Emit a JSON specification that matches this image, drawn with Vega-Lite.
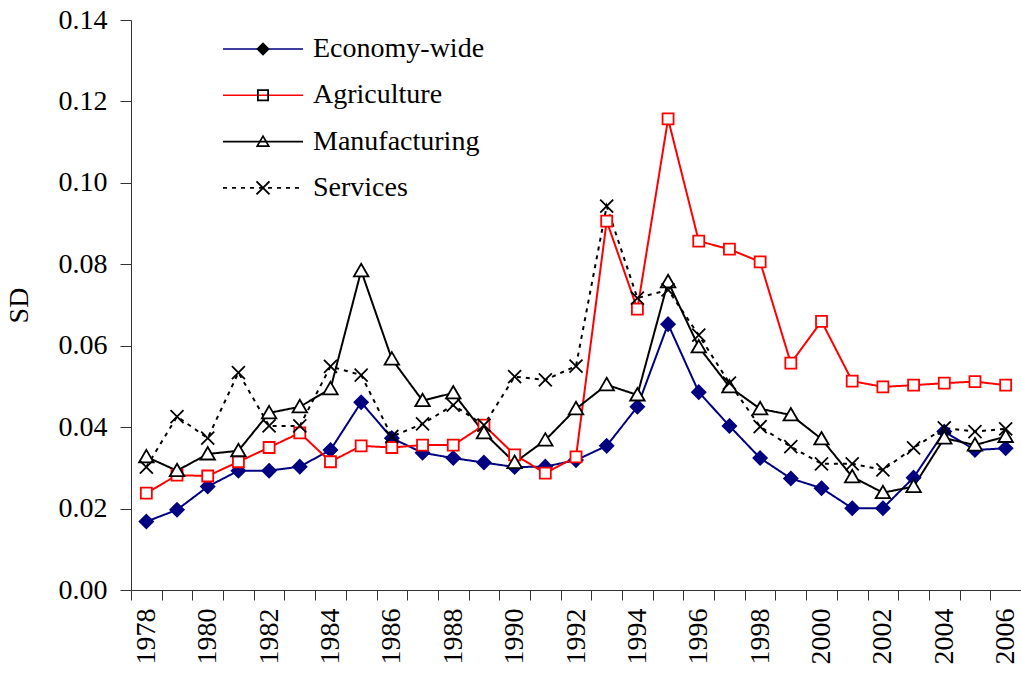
{
  "$schema": "https://vega.github.io/schema/vega-lite/v6.json",
  "width": 890,
  "height": 570,
  "autosize": "none",
  "padding": {"left": 131, "top": 20, "right": 0, "bottom": 83},
  "background": "white",
  "config": {
    "view": {"stroke": null},
    "font": "Liberation Serif",
    "axis": {"labelFont": "Liberation Serif", "titleFont": "Liberation Serif", "labelColor": "black", "titleColor": "black", "domainColor": "#333", "tickColor": "#333", "grid": false}
  },
  "data": {"values": [
    {"year":1978,"series":"Economy-wide","value":0.0168},{"year":1979,"series":"Economy-wide","value":0.0197},{"year":1980,"series":"Economy-wide","value":0.0254},{"year":1981,"series":"Economy-wide","value":0.0293},{"year":1982,"series":"Economy-wide","value":0.0293},{"year":1983,"series":"Economy-wide","value":0.0303},{"year":1984,"series":"Economy-wide","value":0.0344},{"year":1985,"series":"Economy-wide","value":0.0461},{"year":1986,"series":"Economy-wide","value":0.0373},{"year":1987,"series":"Economy-wide","value":0.0337},{"year":1988,"series":"Economy-wide","value":0.0324},{"year":1989,"series":"Economy-wide","value":0.0313},{"year":1990,"series":"Economy-wide","value":0.0302},{"year":1991,"series":"Economy-wide","value":0.0303},{"year":1992,"series":"Economy-wide","value":0.0319},{"year":1993,"series":"Economy-wide","value":0.0354},{"year":1994,"series":"Economy-wide","value":0.045},{"year":1995,"series":"Economy-wide","value":0.0653},{"year":1996,"series":"Economy-wide","value":0.0486},{"year":1997,"series":"Economy-wide","value":0.0403},{"year":1998,"series":"Economy-wide","value":0.0324},{"year":1999,"series":"Economy-wide","value":0.0274},{"year":2000,"series":"Economy-wide","value":0.025},{"year":2001,"series":"Economy-wide","value":0.0201},{"year":2002,"series":"Economy-wide","value":0.0201},{"year":2003,"series":"Economy-wide","value":0.0276},{"year":2004,"series":"Economy-wide","value":0.0389},{"year":2005,"series":"Economy-wide","value":0.0344},{"year":2006,"series":"Economy-wide","value":0.0348},
    {"year":1978,"series":"Agriculture","value":0.0238},{"year":1979,"series":"Agriculture","value":0.0282},{"year":1980,"series":"Agriculture","value":0.028},{"year":1981,"series":"Agriculture","value":0.0315},{"year":1982,"series":"Agriculture","value":0.035},{"year":1983,"series":"Agriculture","value":0.0386},{"year":1984,"series":"Agriculture","value":0.0315},{"year":1985,"series":"Agriculture","value":0.0354},{"year":1986,"series":"Agriculture","value":0.035},{"year":1987,"series":"Agriculture","value":0.0356},{"year":1988,"series":"Agriculture","value":0.0356},{"year":1989,"series":"Agriculture","value":0.0405},{"year":1990,"series":"Agriculture","value":0.0332},{"year":1991,"series":"Agriculture","value":0.0287},{"year":1992,"series":"Agriculture","value":0.0327},{"year":1993,"series":"Agriculture","value":0.0906},{"year":1994,"series":"Agriculture","value":0.069},{"year":1995,"series":"Agriculture","value":0.1157},{"year":1996,"series":"Agriculture","value":0.0857},{"year":1997,"series":"Agriculture","value":0.0837},{"year":1998,"series":"Agriculture","value":0.0806},{"year":1999,"series":"Agriculture","value":0.0557},{"year":2000,"series":"Agriculture","value":0.066},{"year":2001,"series":"Agriculture","value":0.0513},{"year":2002,"series":"Agriculture","value":0.0499},{"year":2003,"series":"Agriculture","value":0.0503},{"year":2004,"series":"Agriculture","value":0.0508},{"year":2005,"series":"Agriculture","value":0.0512},{"year":2006,"series":"Agriculture","value":0.0503},
    {"year":1978,"series":"Manufacturing","value":0.0327},{"year":1979,"series":"Manufacturing","value":0.0293},{"year":1980,"series":"Manufacturing","value":0.0334},{"year":1981,"series":"Manufacturing","value":0.0342},{"year":1982,"series":"Manufacturing","value":0.0435},{"year":1983,"series":"Manufacturing","value":0.045},{"year":1984,"series":"Manufacturing","value":0.0494},{"year":1985,"series":"Manufacturing","value":0.0784},{"year":1986,"series":"Manufacturing","value":0.0567},{"year":1987,"series":"Manufacturing","value":0.0465},{"year":1988,"series":"Manufacturing","value":0.0484},{"year":1989,"series":"Manufacturing","value":0.0386},{"year":1990,"series":"Manufacturing","value":0.0313},{"year":1991,"series":"Manufacturing","value":0.0368},{"year":1992,"series":"Manufacturing","value":0.0445},{"year":1993,"series":"Manufacturing","value":0.0504},{"year":1994,"series":"Manufacturing","value":0.0479},{"year":1995,"series":"Manufacturing","value":0.0757},{"year":1996,"series":"Manufacturing","value":0.0597},{"year":1997,"series":"Manufacturing","value":0.0499},{"year":1998,"series":"Manufacturing","value":0.0445},{"year":1999,"series":"Manufacturing","value":0.043},{"year":2000,"series":"Manufacturing","value":0.0371},{"year":2001,"series":"Manufacturing","value":0.0278},{"year":2002,"series":"Manufacturing","value":0.0239},{"year":2003,"series":"Manufacturing","value":0.0254},{"year":2004,"series":"Manufacturing","value":0.0373},{"year":2005,"series":"Manufacturing","value":0.0356},{"year":2006,"series":"Manufacturing","value":0.0377},
    {"year":1978,"series":"Services","value":0.0302},{"year":1979,"series":"Services","value":0.0426},{"year":1980,"series":"Services","value":0.0373},{"year":1981,"series":"Services","value":0.0534},{"year":1982,"series":"Services","value":0.0403},{"year":1983,"series":"Services","value":0.0403},{"year":1984,"series":"Services","value":0.0549},{"year":1985,"series":"Services","value":0.0528},{"year":1986,"series":"Services","value":0.0377},{"year":1987,"series":"Services","value":0.0408},{"year":1988,"series":"Services","value":0.0454},{"year":1989,"series":"Services","value":0.0405},{"year":1990,"series":"Services","value":0.0524},{"year":1991,"series":"Services","value":0.0516},{"year":1992,"series":"Services","value":0.055},{"year":1993,"series":"Services","value":0.0943},{"year":1994,"series":"Services","value":0.0717},{"year":1995,"series":"Services","value":0.0737},{"year":1996,"series":"Services","value":0.0626},{"year":1997,"series":"Services","value":0.0508},{"year":1998,"series":"Services","value":0.0401},{"year":1999,"series":"Services","value":0.0352},{"year":2000,"series":"Services","value":0.031},{"year":2001,"series":"Services","value":0.031},{"year":2002,"series":"Services","value":0.0295},{"year":2003,"series":"Services","value":0.0349},{"year":2004,"series":"Services","value":0.0398},{"year":2005,"series":"Services","value":0.0389},{"year":2006,"series":"Services","value":0.0396}
  ]},
  "encoding": {
    "x": {
      "field": "year", "type": "ordinal",
      "scale": {"type": "band", "paddingInner": 0, "paddingOuter": 0},
      "axis": {"title": null, "tickBand": "extent", "labelAngle": -90, "labelFontSize": 28, "labelPadding": 8, "tickSize": 10, "labelOverlap": false,
               "labelExpr": "datum.value % 2 == 0 ? datum.value : ''"}
    },
    "y": {
      "field": "value", "type": "quantitative",
      "scale": {"domain": [0, 0.14], "nice": false, "zero": true},
      "axis": {"title": "SD", "values": [0, 0.02, 0.04, 0.06, 0.08, 0.1, 0.12, 0.14], "format": ".2f", "labelFontSize": 28, "titleFontSize": 28, "titleFontWeight": "normal", "tickSize": 11, "labelPadding": 13, "titlePadding": 25}
    },
    "color": {
      "field": "series", "type": "nominal",
      "scale": {"domain": ["Economy-wide", "Agriculture", "Manufacturing", "Services"], "range": ["#000080", "#ff0000", "#000000", "#000000"]},
      "legend": {
        "title": null, "orient": "none", "legendX": 91, "legendY": 9, "padding": 0,
        "symbolType": "stroke", "symbolSize": 6400, "clipHeight": 40, "rowPadding": 6.3, "labelOffset": 9, "labelLimit": 0,
        "labelFont": "Liberation Serif", "labelFontSize": 28, "labelColor": "black", "symbolStrokeWidth": 1.6,
        "encode": {"symbols": {"update": {
          "shape": {"value": "stroke"},
          "fill": {"value": "transparent"},
          "strokeDash": {"signal": "datum.value == 'Services' ? [4, 4] : datum.value == 'Agriculture' ? [34.5, 11, 40] : datum.value == 'Manufacturing' ? [35.5, 9, 40] : [1, 0]"},
          "opacity": {"value": 1}
        }}}
      }
    }
  },
  "resolve": {"scale": {"shape": "independent"}},
  "layer": [
    {
      "mark": {"type": "line", "strokeWidth": 2},
      "encoding": {
        "strokeDash": {"field": "series", "type": "nominal", "legend": null,
          "scale": {"domain": ["Economy-wide", "Agriculture", "Manufacturing", "Services"], "range": [[1, 0], [1, 0], [1, 0], [4, 5]]}}
      }
    },
    {
      "mark": {"type": "point", "filled": false, "size": 100, "strokeWidth": 1.8, "opacity": 1},
      "encoding": {
        "shape": {"field": "series", "type": "nominal", "legend": null,
          "scale": {"domain": ["Economy-wide", "Agriculture", "Manufacturing", "Services"],
                    "range": ["M0,-1.35L1.35,0L0,1.35L-1.35,0Z", "M-1.1,-1.1H1.1V1.1H-1.1Z", "M0,-1.4L1.45,1.1L-1.45,1.1Z", "M-1.3,-1.3L1.3,1.3M1.3,-1.3L-1.3,1.3"]}},
        "fill": {
          "condition": [
            {"test": "datum.series == 'Economy-wide'", "value": "#000080"},
            {"test": "datum.series == 'Services'", "value": "transparent"}
          ],
          "value": "#ffffff"
        }
      }
    },
    {
      "transform": [{"filter": "false"}],
      "mark": {"type": "point", "filled": true, "size": 100, "strokeWidth": 0, "opacity": 1},
      "encoding": {
        "color": {"value": "#000000"},
        "shape": {"field": "series", "type": "nominal",
          "scale": {"domain": ["Economy-wide", "Agriculture", "Manufacturing", "Services"],
                    "range": ["M0,-1.35L1.35,0L0,1.35L-1.35,0Z", "M-1.2,-1.2H1.2V1.2H-1.2ZM-0.85,-0.85V0.85H0.85V-0.85Z", "M0,-1.4L1.45,1.1L-1.45,1.1ZM0,-0.75L-0.85,0.75L0.85,0.75Z", "M-1.16,-1.44L1.44,1.16L1.16,1.44L-1.44,-1.16ZM1.44,-1.16L-1.16,1.44L-1.44,1.16L1.16,-1.44Z"]},
          "legend": {
            "title": null, "orient": "top-left", "offset": 15, "padding": 0,
            "symbolSize": 100, "symbolOffset": 103, "rowPadding": 18.3, "labelExpr": "''", "labelFontSize": 28, "labelFont": "Liberation Serif",
            "symbolStrokeWidth": 0
          }
        },
        "fill": {"field": "series", "type": "nominal", "legend": null,
          "scale": {"domain": ["Economy-wide", "Agriculture", "Manufacturing", "Services"], "range": ["#000080", "#ff0000", "#000000", "#000000"]}}
      }
    }
  ]
}
